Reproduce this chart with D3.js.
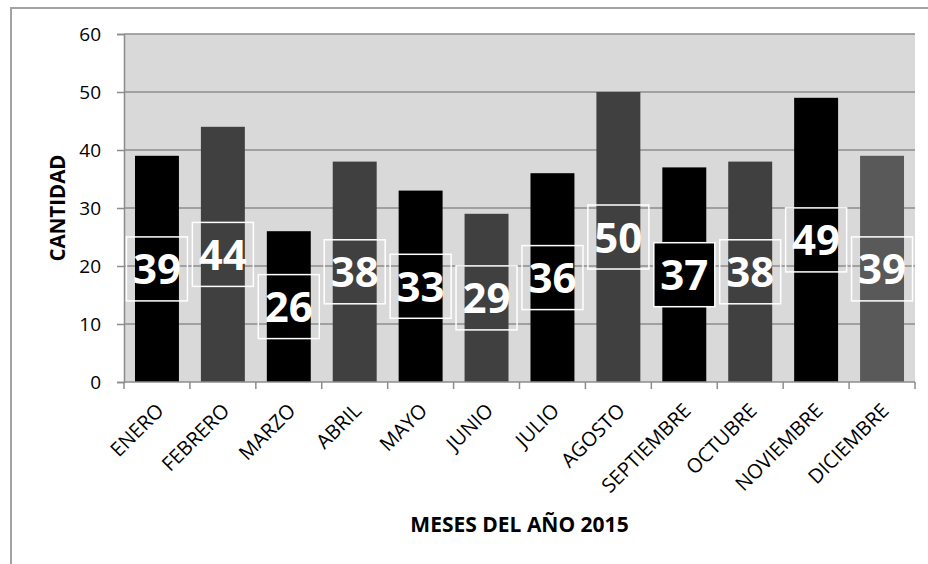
<!DOCTYPE html>
<html>
<head>
<meta charset="utf-8">
<script src="https://cdn.jsdelivr.net/npm/d3@7"></script>
<style>
  body { margin: 0; background: #fff; }
  svg text { font-family: "Open Sans", sans-serif; }
</style>
</head>
<body>
<div id="chart"></div>
<script>
// data
let months = ["ENERO","FEBRERO","MARZO","ABRIL","MAYO","JUNIO","JULIO","AGOSTO","SEPTIEMBRE","OCTUBRE","NOVIEMBRE","DICIEMBRE"];
let cantidad = [39,44,26,38,33,29,36,50,37,38,49,39];
let yTicks = [0,10,20,30,40,50,60];

// bar fills, one per month
let barFills = ["#000","#404040","#000","#404040","#000","#404040","#000","#404040","#000","#404040","#000","#595959"];
let boxedBlack = "SEPTIEMBRE"; // this label sits on a black filled box

var width = 928, height = 564;
var margin = {top: 34, right: 13, bottom: 182, left: 124};

var svg = d3.select("#chart").append("svg")
    .attr("width", width)
    .attr("height", height);

// outer chart border (only top and left show in the shot)
svg.append("rect")
    .attr("x", 11).attr("y", 8)
    .attr("width", 1000).attr("height", 1000)
    .attr("fill", "none")
    .attr("stroke", "#a3a3a3")
    .attr("stroke-width", 2);

var x = d3.scaleBand()
    .domain(months)
    .range([margin.left, width - margin.right])
    .paddingInner(1/3)
    .paddingOuter(1/6);

var y = d3.scaleLinear()
    .domain([0, 60])
    .range([height - margin.bottom, margin.top]);

// plot area
svg.append("rect")
    .attr("x", margin.left)
    .attr("y", margin.top)
    .attr("width", width - margin.right - margin.left)
    .attr("height", y(0) - margin.top)
    .attr("fill", "#d9d9d9");

// gridlines + y axis
var yAxis = svg.append("g")
    .attr("transform", "translate(" + margin.left + ",0)")
    .call(d3.axisLeft(y).tickValues(yTicks).tickSize(7).tickPadding(16));
yAxis.select(".domain").attr("stroke", "#8c8c8c").attr("stroke-width", 1.5);
yAxis.selectAll(".tick line").attr("stroke", "#8c8c8c").attr("stroke-width", 1.5);
yAxis.selectAll(".tick text")
    .attr("font-size", 19)
    .attr("fill", "#000")
    .style("font-family", "'Open Sans', sans-serif");

svg.append("g")
  .selectAll("line")
  .data(yTicks.filter(d => d > 0))
  .enter()
  .append("line")
    .attr("x1", margin.left)
    .attr("x2", width - margin.right)
    .attr("y1", d => y(d))
    .attr("y2", d => y(d))
    .attr("stroke", "#8c8c8c")
    .attr("stroke-width", 1.5);

// bars
svg.append("g")
  .selectAll("rect")
  .data(months)
  .enter()
  .append("rect")
    .attr("x", d => x(d))
    .attr("y", (d, i) => y(cantidad[i]))
    .attr("width", x.bandwidth())
    .attr("height", (d, i) => y(0) - y(cantidad[i]))
    .attr("fill", (d, i) => barFills[i]);

// x axis with ticks at category boundaries
var step = x.step();
var bounds = months.map(m => x(m) - x.paddingOuter() * step).concat([width - margin.right]);
svg.append("line")
    .attr("x1", margin.left).attr("x2", width - margin.right)
    .attr("y1", y(0)).attr("y2", y(0))
    .attr("stroke", "#8c8c8c").attr("stroke-width", 1.5);
svg.append("g")
  .selectAll("line")
  .data(bounds)
  .enter()
  .append("line")
    .attr("x1", d => d).attr("x2", d => d)
    .attr("y1", y(0)).attr("y2", y(0) + 7)
    .attr("stroke", "#8c8c8c").attr("stroke-width", 1.5);

// rotated month labels
svg.append("g")
  .selectAll("text")
  .data(months)
  .enter()
  .append("text")
    .attr("transform", d => "translate(" + (x(d) + x.bandwidth() / 2 + 3) + "," + (y(0) + 25) + ") rotate(-45)")
    .attr("text-anchor", "end")
    .attr("dy", "0.35em")
    .attr("font-size", 20)
    .text(d => d);

// data labels in boxes
var boxW = 61, boxH = 64;
var labels = svg.append("g")
  .selectAll("g")
  .data(months)
  .enter()
  .append("g")
    .attr("transform", (d, i) => "translate(" + (x(d) + x.bandwidth() / 2) + "," + ((y(cantidad[i]) + y(0)) / 2) + ")");

labels.append("rect")
    .attr("x", -boxW / 2)
    .attr("y", -boxH / 2)
    .attr("width", boxW)
    .attr("height", boxH)
    .attr("fill", d => d == boxedBlack ? "#000" : "none")
    .attr("stroke", "#fff")
    .attr("stroke-width", 1.5);

labels.append("text")
    .attr("text-anchor", "middle")
    .attr("dy", "0.37em")
    .attr("font-size", 42)
    .attr("font-weight", "bold")
    .attr("fill", "#fff")
    .text((d, i) => cantidad[i]);

// axis titles
svg.append("text")
    .attr("transform", "translate(65," + ((margin.top + y(0)) / 2) + ") rotate(-90)")
    .attr("text-anchor", "middle")
    .attr("font-size", 20.5)
    .attr("font-weight", "bold")
    .text("CANTIDAD");

svg.append("text")
    .attr("x", (margin.left + width - margin.right) / 2)
    .attr("y", 532)
    .attr("text-anchor", "middle")
    .attr("font-size", 21)
    .attr("font-weight", "bold")
    .text("MESES DEL AÑO 2015");
</script>
</body>
</html>
